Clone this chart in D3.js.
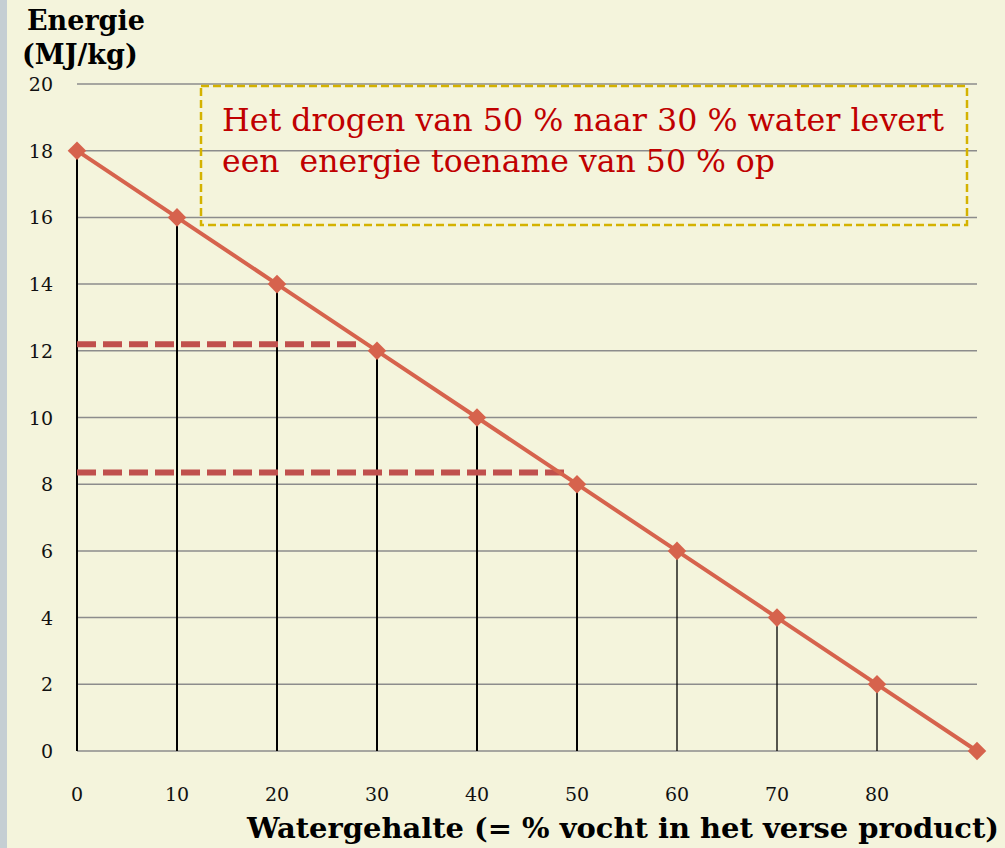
<!DOCTYPE html>
<html>
<head>
<meta charset="utf-8">
<script src="https://cdn.jsdelivr.net/npm/d3@7"></script>
<style>
  body { margin: 0; background: #f4f4dc; }
  svg { display: block; }
</style>
</head>
<body>
<script>
// data
var watergehalte = [0, 10, 20, 30, 40, 50, 60, 70, 80, 90];
var energie = [18, 16, 14, 12, 10, 8, 6, 4, 2, 0];
var yTicks = [0, 2, 4, 6, 8, 10, 12, 14, 16, 18, 20];
var xTicks = [0, 10, 20, 30, 40, 50, 60, 70, 80];
// dashed helper lines: [energy level, x end]
var hulpLijnen = [[12.2, 28.4], [8.35, 48.8]];
var notitie = ["Het drogen van 50 % naar 30 % water levert", "een  energie toename van 50 % op"];

var width = 1005, height = 848;
var serif = "'DejaVu Serif', 'Liberation Serif', serif";

var svg = d3.select("body").append("svg")
  .attr("width", width)
  .attr("height", height);

svg.append("rect").attr("width", width).attr("height", height).attr("fill", "#f4f4dc");
svg.append("rect").attr("width", 7).attr("height", height).attr("fill", "#c5ced3");

var x = d3.scaleLinear().domain([0, 90]).range([77, 977]);
var y = d3.scaleLinear().domain([0, 20]).range([751, 84]);

// gridlines
svg.append("g")
  .selectAll("line")
  .data(yTicks)
  .join("line")
  .attr("x1", x(0))
  .attr("x2", x(90))
  .attr("y1", d => y(d))
  .attr("y2", d => y(d))
  .attr("stroke", "#8c8c8c")
  .attr("stroke-width", 1.5);

// y tick labels
svg.append("g")
  .selectAll("text")
  .data(yTicks)
  .join("text")
  .attr("x", 53)
  .attr("y", d => y(d) + 7)
  .attr("text-anchor", "end")
  .attr("font-family", serif)
  .attr("font-size", 19)
  .attr("fill", "#111")
  .text(d => d);

// x tick labels
svg.append("g")
  .selectAll("text")
  .data(xTicks)
  .join("text")
  .attr("x", d => x(d))
  .attr("y", 801)
  .attr("text-anchor", "middle")
  .attr("font-family", serif)
  .attr("font-size", 19)
  .attr("fill", "#111")
  .text(d => d);

// drop lines
svg.append("g")
  .selectAll("line")
  .data(watergehalte.slice(0, 9))
  .join("line")
  .attr("x1", d => x(d))
  .attr("x2", d => x(d))
  .attr("y1", (d, i) => y(energie[i]))
  .attr("y2", y(0))
  .attr("stroke", "#000")
  .attr("stroke-width", d => d <= 50 ? 2 : 1.3);

// dashed helper lines
svg.append("g")
  .selectAll("line")
  .data(hulpLijnen)
  .join("line")
  .attr("x1", x(0))
  .attr("x2", d => x(d[1]))
  .attr("y1", d => y(d[0]))
  .attr("y2", d => y(d[0]))
  .attr("stroke", "#c0504d")
  .attr("stroke-width", 6)
  .attr("stroke-dasharray", "19,7");

// main line
var pts = watergehalte.map((d, i) => [d, energie[i]]);
svg.append("path")
  .datum(pts)
  .attr("fill", "none")
  .attr("stroke", "#d6634d")
  .attr("stroke-width", 4)
  .attr("d", d3.line().x(d => x(d[0])).y(d => y(d[1])));

svg.append("g")
  .selectAll("path")
  .data(pts)
  .join("path")
  .attr("transform", d => "translate(" + x(d[0]) + "," + y(d[1]) + ")")
  .attr("d", d3.symbol(d3.symbolDiamond2, 220))
  .attr("fill", "#d6634d");

// annotation box
svg.append("rect")
  .attr("x", 201)
  .attr("y", 86)
  .attr("width", 766)
  .attr("height", 139)
  .attr("fill", "none")
  .attr("stroke", "#d4b200")
  .attr("stroke-width", 2.5)
  .attr("stroke-dasharray", "8,4");

var breedtes = [722, 553];
svg.append("g")
  .selectAll("text")
  .data(notitie)
  .join("text")
  .attr("x", 222)
  .attr("y", (d, i) => 131 + i * 41)
  .attr("font-family", serif)
  .attr("font-size", 32)
  .attr("fill", "#c00000")
  .attr("textLength", (d, i) => breedtes[i])
  .attr("lengthAdjust", "spacingAndGlyphs")
  .attr("xml:space", "preserve")
  .style("white-space", "pre")
  .text(d => d);

// axis titles
var titels = svg.append("g")
  .attr("font-family", serif)
  .attr("font-weight", "bold")
  .attr("fill", "#000");

titels.append("text").attr("x", 27).attr("y", 30).attr("font-size", 27).text("Energie");
titels.append("text").attr("x", 22).attr("y", 64).attr("font-size", 27).text("(MJ/kg)");
titels.append("text")
  .attr("x", 247)
  .attr("y", 838)
  .attr("font-size", 27)
  .attr("textLength", 752)
  .attr("lengthAdjust", "spacingAndGlyphs")
  .text("Watergehalte (= % vocht in het verse product)");
</script>
</body>
</html>
